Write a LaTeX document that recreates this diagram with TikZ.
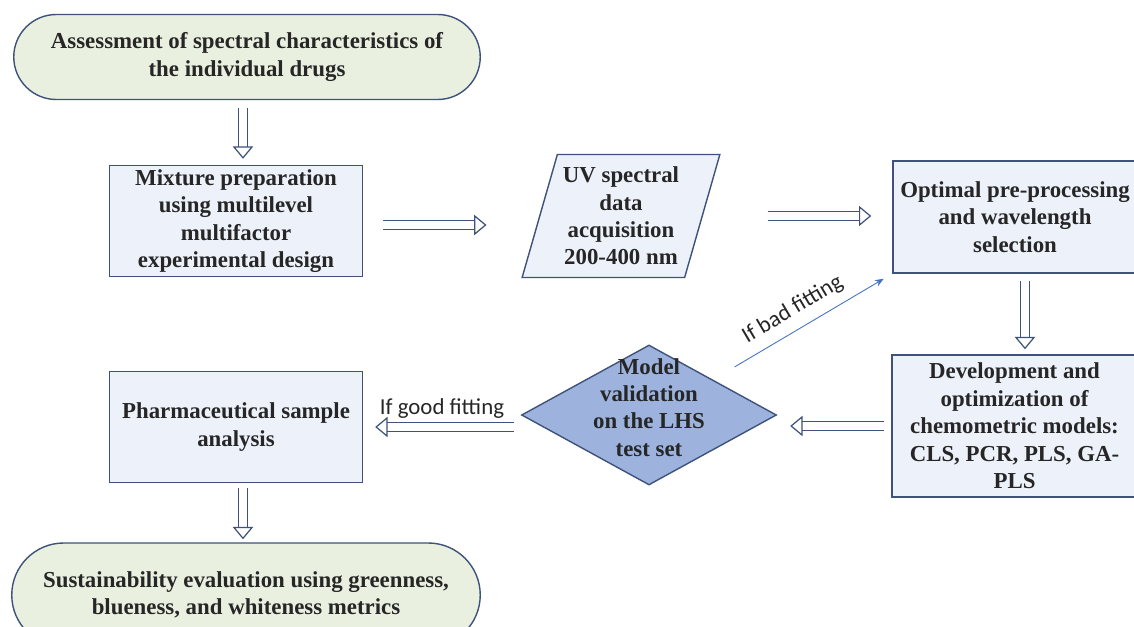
\documentclass[tikz,border=0pt]{standalone}
\usepackage{fontspec}
\setmainfont{Liberation Serif}
\newfontfamily\calibrifont{Carlito}
\usetikzlibrary{positioning}
\usetikzlibrary{shapes.misc}
\usetikzlibrary{shapes.geometric}
\usetikzlibrary{calc}
\usetikzlibrary{arrows.meta}
\definecolor{edgeblue}{RGB}{62,82,122}
\definecolor{boxfill}{RGB}{237,241,250}
\definecolor{termfill}{RGB}{233,240,224}
\definecolor{decfill}{RGB}{157,179,222}
\definecolor{fitblue}{RGB}{68,114,196}
\definecolor{inktext}{RGB}{38,38,38}
\tikzset{
    base/.style = {draw=edgeblue, line width=0.8pt, align=center, text=inktext,
        font=\fontsize{13}{15.6}\selectfont\bfseries, inner sep=1pt},
    terminal/.style = {base, rounded rectangle, fill=termfill},
    process/.style = {base, rectangle, fill=boxfill, minimum width=5.06cm, minimum height=2.22cm},
    dataio/.style = {base, trapezium, trapezium left angle=72, trapezium right angle=108,
        trapezium stretches=true, fill=boxfill, minimum width=3.96cm, minimum height=2.46cm},
    decision/.style = {base, diamond, fill=decfill, inner sep=0pt, minimum width=5.1cm, minimum height=2.8cm},
    hollow/.style = {draw=edgeblue, line width=0.7pt, double=white, double distance=4.5pt,
        -{Triangle[fill=white, line width=0.7pt, length=7pt, width=11.5pt]}},
    fitarrow/.style = {draw=fitblue, line width=0.5pt, -{Stealth[length=5pt,width=4pt]}},
    fitlabel/.style = {font=\calibrifont\fontsize{13}{15}\selectfont, text=inktext}}
\begin{document}
\begin{tikzpicture}
    \useasboundingbox (0,0) rectangle (22.68,12.52);
    \path (4.94,11.38) node[terminal, minimum width=9.4cm, minimum height=1.7cm] (assess)
            {Assessment of spectral characteristics of\\the individual drugs}
          (4.72,8.10) node[process] (mix)
            {Mixture preparation\\using multilevel\\multifactor\\experimental design}
          (12.42,8.20) node[dataio] (uv)
            {UV spectral\\data\\acquisition\\200-400 nm}
          (20.30,8.18) node[process, minimum width=4.88cm, minimum height=2.24cm] (opt)
            {Optimal pre-processing\\and wavelength\\selection}
          (20.29,4.00) node[process, minimum width=4.9cm, minimum height=2.84cm] (dev)
            {Development and\\optimization of\\chemometric models:\\CLS, PCR, PLS, GA-\\PLS}
          (12.98,4.22) node[decision] (val)
            {\smash{\begin{tabular}{@{}c@{}}Model\\validation\\on the LHS\\test set\end{tabular}}}
          (4.72,3.98) node[process] (pharma)
            {Pharmaceutical sample\\analysis}
          (4.92,0.62) node[terminal, minimum width=9.44cm, minimum height=2.08cm] (sustain)
            {Sustainability evaluation using greenness,\\blueness, and whiteness metrics};
    \draw[hollow, shorten <=0.16cm, shorten >=0.12cm] ([xshift=-0.08cm]assess.south) -- ([xshift=-0.08cm]assess.south |- mix.north);
    \draw[hollow, shorten <=0.4cm, shorten >=1.05cm] ([yshift=-0.08cm]mix.east) -- ([yshift=-0.08cm]mix.east -| uv.west);
    \draw[hollow, shorten <=1.3cm, shorten >=0.42cm] (uv.east) -- (uv.east -| opt.west);
    \draw[hollow, shorten <=0.14cm, shorten >=0.1cm] ([xshift=0.2cm]opt.south) -- ([xshift=0.2cm]opt.south |- dev.north);
    \draw[hollow, shorten <=0.14cm, shorten >=0.26cm] (dev.west) -- (dev.west -| val.east);
    \draw[hollow, shorten <=0.14cm, shorten >=0.24cm] (val.west |- pharma.east) -- (pharma.east)
        node[fitlabel, midway, above=1pt] (goodfit) {If good fitting};
    \draw[hollow, shorten <=0.1cm, shorten >=0.06cm] ([xshift=0.14cm]pharma.south) -- ([xshift=0.14cm]pharma.south |- sustain.north);
    \draw[fitarrow, shorten <=0.5cm, shorten >=0.2cm] (val.north east) -- (opt.south west)
        node[fitlabel, pos=0.5, sloped, above=2pt] (badfit) {If bad fitting};
\end{tikzpicture}
\end{document}
